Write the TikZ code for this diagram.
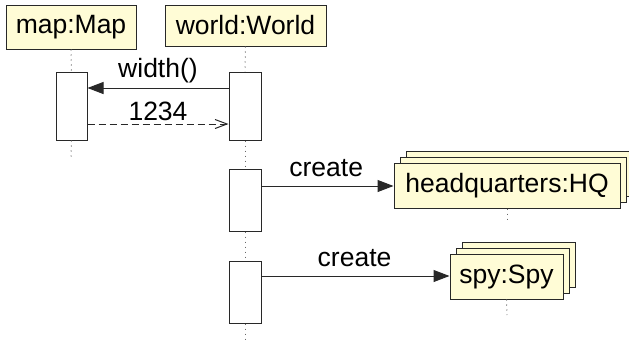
\documentclass[tikz,border=0pt]{standalone}
\usepackage{fontspec}
\setmainfont{Liberation Sans}
\usetikzlibrary{arrows.meta,shadows}
\definecolor{objfill}{RGB}{255,252,214}
\definecolor{ink}{RGB}{40,40,40}
\tikzset{
  obj/.style={draw=ink, line width=1pt, fill=objfill, inner sep=0pt,
    font=\fontsize{26.5}{30}\selectfont},
  stackobj/.style={obj, double copy shadow={shadow xshift=6pt, shadow yshift=6pt}},
  act/.style={draw=ink, line width=1pt, fill=white, minimum width=32pt, inner sep=0pt},
  life/.style={draw=ink!70, line width=1pt, dash pattern=on 1pt off 4pt},
  lbl/.style={font=\fontsize{26.5}{30}\selectfont, inner sep=0pt},
  call/.style={draw=ink, line width=1pt, -{Triangle[length=16pt,width=12pt]}},
  reply/.style={draw=ink, line width=1pt, dash pattern=on 7pt off 4pt,
    -{Straight Barb[length=12pt,width=9pt,line width=1pt]}}
}
\begin{document}
\begin{tikzpicture}[x=1pt,y=-1pt]
\useasboundingbox (0,0) rectangle (629,343);

% participants
\node[obj, minimum width=130pt, minimum height=44pt] (map) at (71,27) {map:Map};
\node[obj, minimum width=161pt, minimum height=41pt] (world) at (245.5,25.5) {world:World};

% activations
\node[act, minimum width=31pt, minimum height=68pt] (mapact) at (71.5,106) {};
\node[act, minimum height=68pt] (wact1) at (245,106) {};
\node[act, minimum height=62pt] (wact2) at (245,200) {};
\node[act, minimum height=62pt] (wact3) at (245,292) {};

% created objects
\node[stackobj, minimum width=226pt, minimum height=45pt] (hq) at (507,185.5) {headquarters:HQ};
\node[stackobj, minimum width=113pt, minimum height=45pt] (spy) at (506.5,276.5) {spy:Spy};

% lifelines
\coordinate (mapend) at (71,160);
\coordinate (worldend) at (245,343);
\coordinate (hqend) at (507,222);
\coordinate (spyend) at (507,315);
\draw[life] (map.south) -- (mapact.north);
\draw[life] (mapact.south) -- (mapend);
\draw[life] (world.south) -- (wact1.north);
\draw[life] (wact1.south) -- (wact2.north);
\draw[life] (wact2.south) -- (wact3.north);
\draw[life] (wact3.south) -- (worldend);
\draw[life] (hq.south) -- (hqend);
\draw[life] (spy.south) -- (spyend);

% messages
\draw[call] ([yshift=18pt]wact1.west) -- node[lbl, pos=0.5, yshift=17pt] {width()} ([yshift=18pt]mapact.east);
\draw[reply] ([yshift=-18pt]mapact.east) -- node[lbl, pos=0.5, yshift=13pt] {1234} ([yshift=-18pt]wact1.west);
\draw[call] ([yshift=14pt]wact2.east) coordinate (c1) -- node[lbl, pos=0.49, yshift=18pt] {create} (c1 -| hq.west);
\draw[call] ([yshift=16pt]wact3.east) coordinate (c2) -- node[lbl, pos=0.495, yshift=18pt] {create} (c2 -| spy.west);
\end{tikzpicture}
\end{document}
